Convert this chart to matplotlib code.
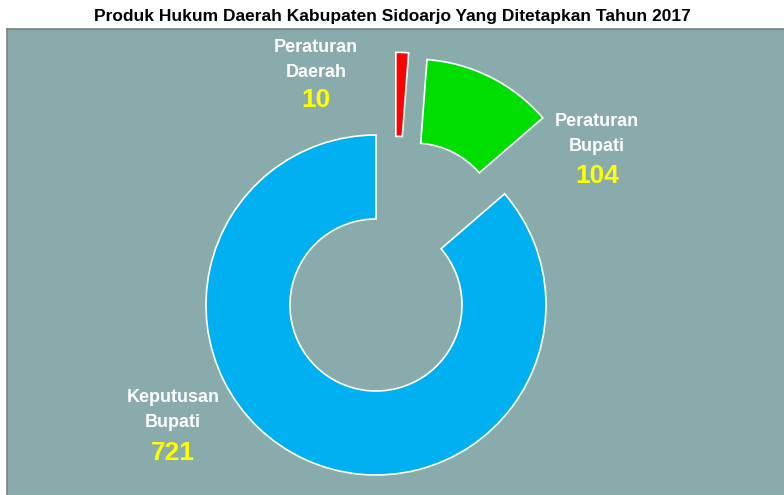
import matplotlib
matplotlib.use("Agg")
import matplotlib.pyplot as plt
import numpy as np
from matplotlib import font_manager

categories = ["Peraturan\nDaerah", "Peraturan\nBupati", "Keputusan\nBupati"]
values = [10, 104, 721]
colors = ["#FF0000", "#00DD00", "#00B0F0"]
title = "Produk Hukum Daerah Kabupaten Sidoarjo Yang Ditetapkan Tahun 2017"

names = {f.name for f in font_manager.fontManager.ttflist}
fam = ["Liberation Sans Narrow", "Liberation Sans", "DejaVu Sans"]
fam = [f for f in fam if f in names] or ["DejaVu Sans"]
plt.rcParams["font.family"] = fam

W, H = 784, 495
fig = plt.figure(figsize=(W / 100, H / 100), dpi=100)
fig.patch.set_facecolor("white")

left, top = 7, 29
ax = fig.add_axes([left / W, 0, (W - left) / W, (H - top) / H])
ax.set_facecolor("#8AABAB")
aw, ah = W - left, H - top

def px(x, y):
    return x - left, H - y

R = 170
off = 0.5 * R
cx, cy = px(376, 305)
wedges, _ = ax.pie(values, colors=colors, startangle=90, counterclock=False,
                   radius=R, center=(cx, cy), explode=[off, off, 0],
                   wedgeprops=dict(width=R - 86, edgecolor="white", linewidth=1.2),
                   frame=True)
# Red slice pushed out along the same offset as rendered in the original
ang = np.deg2rad(76.5)
wedges[0].set_center((cx + off * np.cos(ang), cy + off * np.sin(ang)))
ax.set_xlim(0, aw)
ax.set_ylim(0, ah)
ax.set_aspect("auto")
ax.set_xticks([])
ax.set_yticks([])
for s in ["right", "bottom"]:
    ax.spines[s].set_visible(False)
for s in ["left", "top"]:
    ax.spines[s].set_color("#808080")
    ax.spines[s].set_linewidth(1.2)

label_pos = [(316, 60, 100), (597, 134, 176), (173, 410, 453)]
for cat, val, (x, yl, yv) in zip(categories, values, label_pos):
    tx, ty = px(x, yl)
    ax.text(tx, ty, cat, ha="center", va="center", color="white",
            fontsize=13, fontweight="bold", linespacing=1.55)
    tx, ty = px(x, yv)
    ax.text(tx, ty, str(val), ha="center", va="center", color="#FFFF00",
            fontsize=19, fontweight="bold")

fig.text(392 / W, 1 - 17 / H, title, ha="center", va="center",
         fontsize=12.5, fontweight="bold", color="black")

fig.savefig("out.png", dpi=100)
